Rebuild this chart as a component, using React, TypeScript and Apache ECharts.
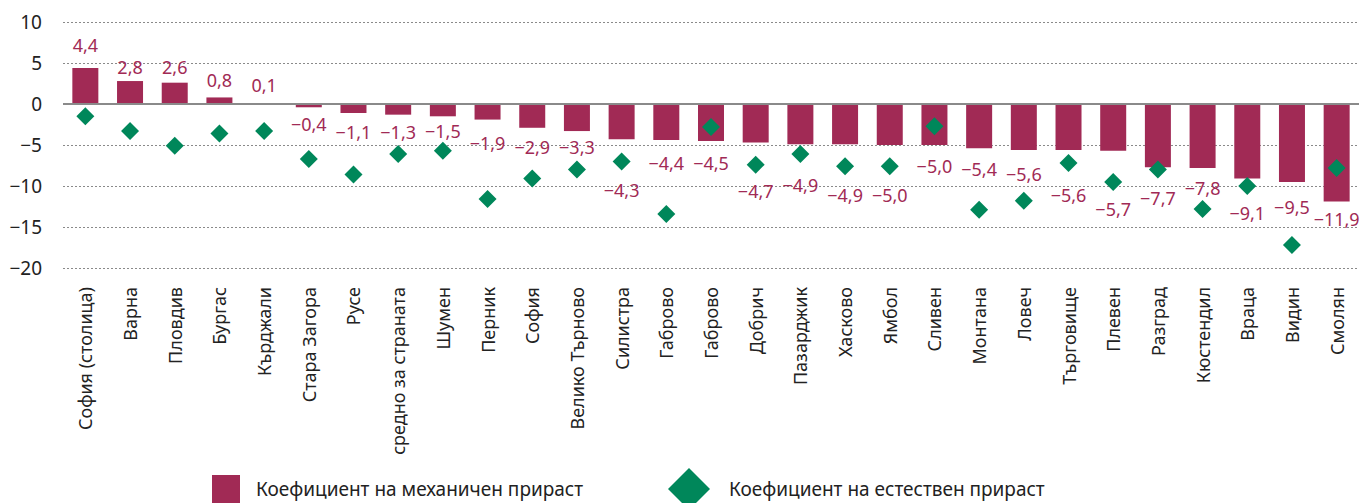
import React, { useEffect, useRef } from "react";
import * as echarts from "echarts";

const categories = [
  "София (столица)", "Варна", "Пловдив", "Бургас", "Кърджали", "Стара Загора", "Русе",
  "средно за страната", "Шумен", "Перник", "София", "Велико Търново", "Силистра", "Габрово",
  "Габрово", "Добрич", "Пазарджик", "Хасково", "Ямбол", "Сливен", "Монтана", "Ловеч",
  "Търговище", "Плевен", "Разград", "Кюстендил", "Враца", "Видин", "Смолян",
];

const mechanicalGrowth = [
  4.4, 2.8, 2.6, 0.8, 0.1, -0.4, -1.1, -1.3, -1.5, -1.9, -2.9, -3.3, -4.3, -4.4, -4.5,
  -4.7, -4.9, -4.9, -5.0, -5.0, -5.4, -5.6, -5.6, -5.7, -7.7, -7.8, -9.1, -9.5, -11.9,
];

const naturalGrowth = [
  -1.5, -3.3, -5.1, -3.6, -3.3, -6.7, -8.6, -6.1, -5.7, -11.6, -9.1, -8.0, -7.0, -13.4, -2.8,
  -7.4, -6.1, -7.6, -7.6, -2.7, -12.9, -11.8, -7.2, -9.5, -8.0, -12.8, -10.0, -17.2, -7.8,
];

// vertical pixel nudges of the value labels (as placed in the original)
const labelNudge = [
  -9, 0, -2, -3, -4, 3, 5, 3, 1, 9, 5, 2, 37, 9, 8,
  34, 27, 37, 36, 7, 7, 10, 31, 44, 17, 6, 20, 11, 3,
];

const yTicks = { min: -20, max: 10, interval: 5 };

const barName = "Коефициент на механичен прираст";
const dotName = "Коефициент на естествен прираст";

const BAR = "#A12A55";
const GREEN = "#00875A";
const FONT = "Noto Sans";

const fmt = (v: number) => (v < 0 ? "−" : "") + Math.abs(v).toFixed(1).replace(".", ",");

export default function App() {
  const ref = useRef<HTMLDivElement>(null);
  useEffect(() => {
    if (!ref.current) return;
    const chart = echarts.init(ref.current, null, { renderer: "svg" });
    chart.setOption({
      animation: false,
      textStyle: { fontFamily: FONT },
      grid: { left: 63, right: 2, top: 22, bottom: 235 },
      legend: [
        {
          data: [{ name: barName, icon: "rect" }],
          left: 207,
          top: 470,
          itemWidth: 28,
          itemHeight: 28,
          textStyle: { fontFamily: FONT, fontSize: 19, color: "#222", padding: [0, 0, 0, 11] },
          selectedMode: false,
        },
        {
          data: [{ name: dotName, icon: "diamond" }],
          left: 663,
          top: 463,
          itemWidth: 42,
          itemHeight: 42,
          textStyle: { fontFamily: FONT, fontSize: 19, color: "#222", padding: [0, 0, 0, 14] },
          selectedMode: false,
        },
      ],
      xAxis: {
        type: "category",
        data: categories,
        axisLine: { show: false, onZero: false },
        axisTick: { show: false },
        axisLabel: {
          rotate: 90,
          interval: 0,
          margin: 19,
          fontFamily: FONT,
          fontSize: 18,
          color: "#222",
        },
      },
      yAxis: {
        type: "value",
        min: yTicks.min,
        max: yTicks.max,
        interval: yTicks.interval,
        axisLine: { show: false },
        axisTick: { show: false },
        axisLabel: {
          margin: 21,
          fontFamily: FONT,
          fontSize: 19,
          color: "#222",
          formatter: (v: number) => fmt(v).replace(",0", ""),
        },
        splitLine: { lineStyle: { color: "#8a8a8a", type: [2, 2], width: 1 } },
      },
      series: [
        {
          name: barName,
          type: "bar",
          barWidth: 26,
          itemStyle: { color: BAR },
          data: mechanicalGrowth.map((v, i) => ({
            value: v,
            label: {
              show: true,
              position: v >= 0 ? "top" : "bottom",
              offset: [0, labelNudge[i]],
              formatter: () => fmt(v),
              color: BAR,
              fontFamily: FONT,
              fontSize: 18,
            },
          })),
          markLine: {
            silent: true,
            symbol: "none",
            label: { show: false },
            lineStyle: { color: "#8a8a8a", type: "solid", width: 2 },
            data: [{ yAxis: 0 }],
          },
          z: 2,
        },
        {
          name: dotName,
          type: "scatter",
          symbol: "diamond",
          symbolSize: 18,
          itemStyle: { color: GREEN, opacity: 1 },
          data: naturalGrowth,
          z: 3,
        },
      ],
    });
    return () => chart.dispose();
  }, []);
  return (
    <div
      ref={ref}
      style={{ position: "fixed", left: 0, top: 0, width: 1361, height: 503, background: "#fff" }}
    />
  );
}
